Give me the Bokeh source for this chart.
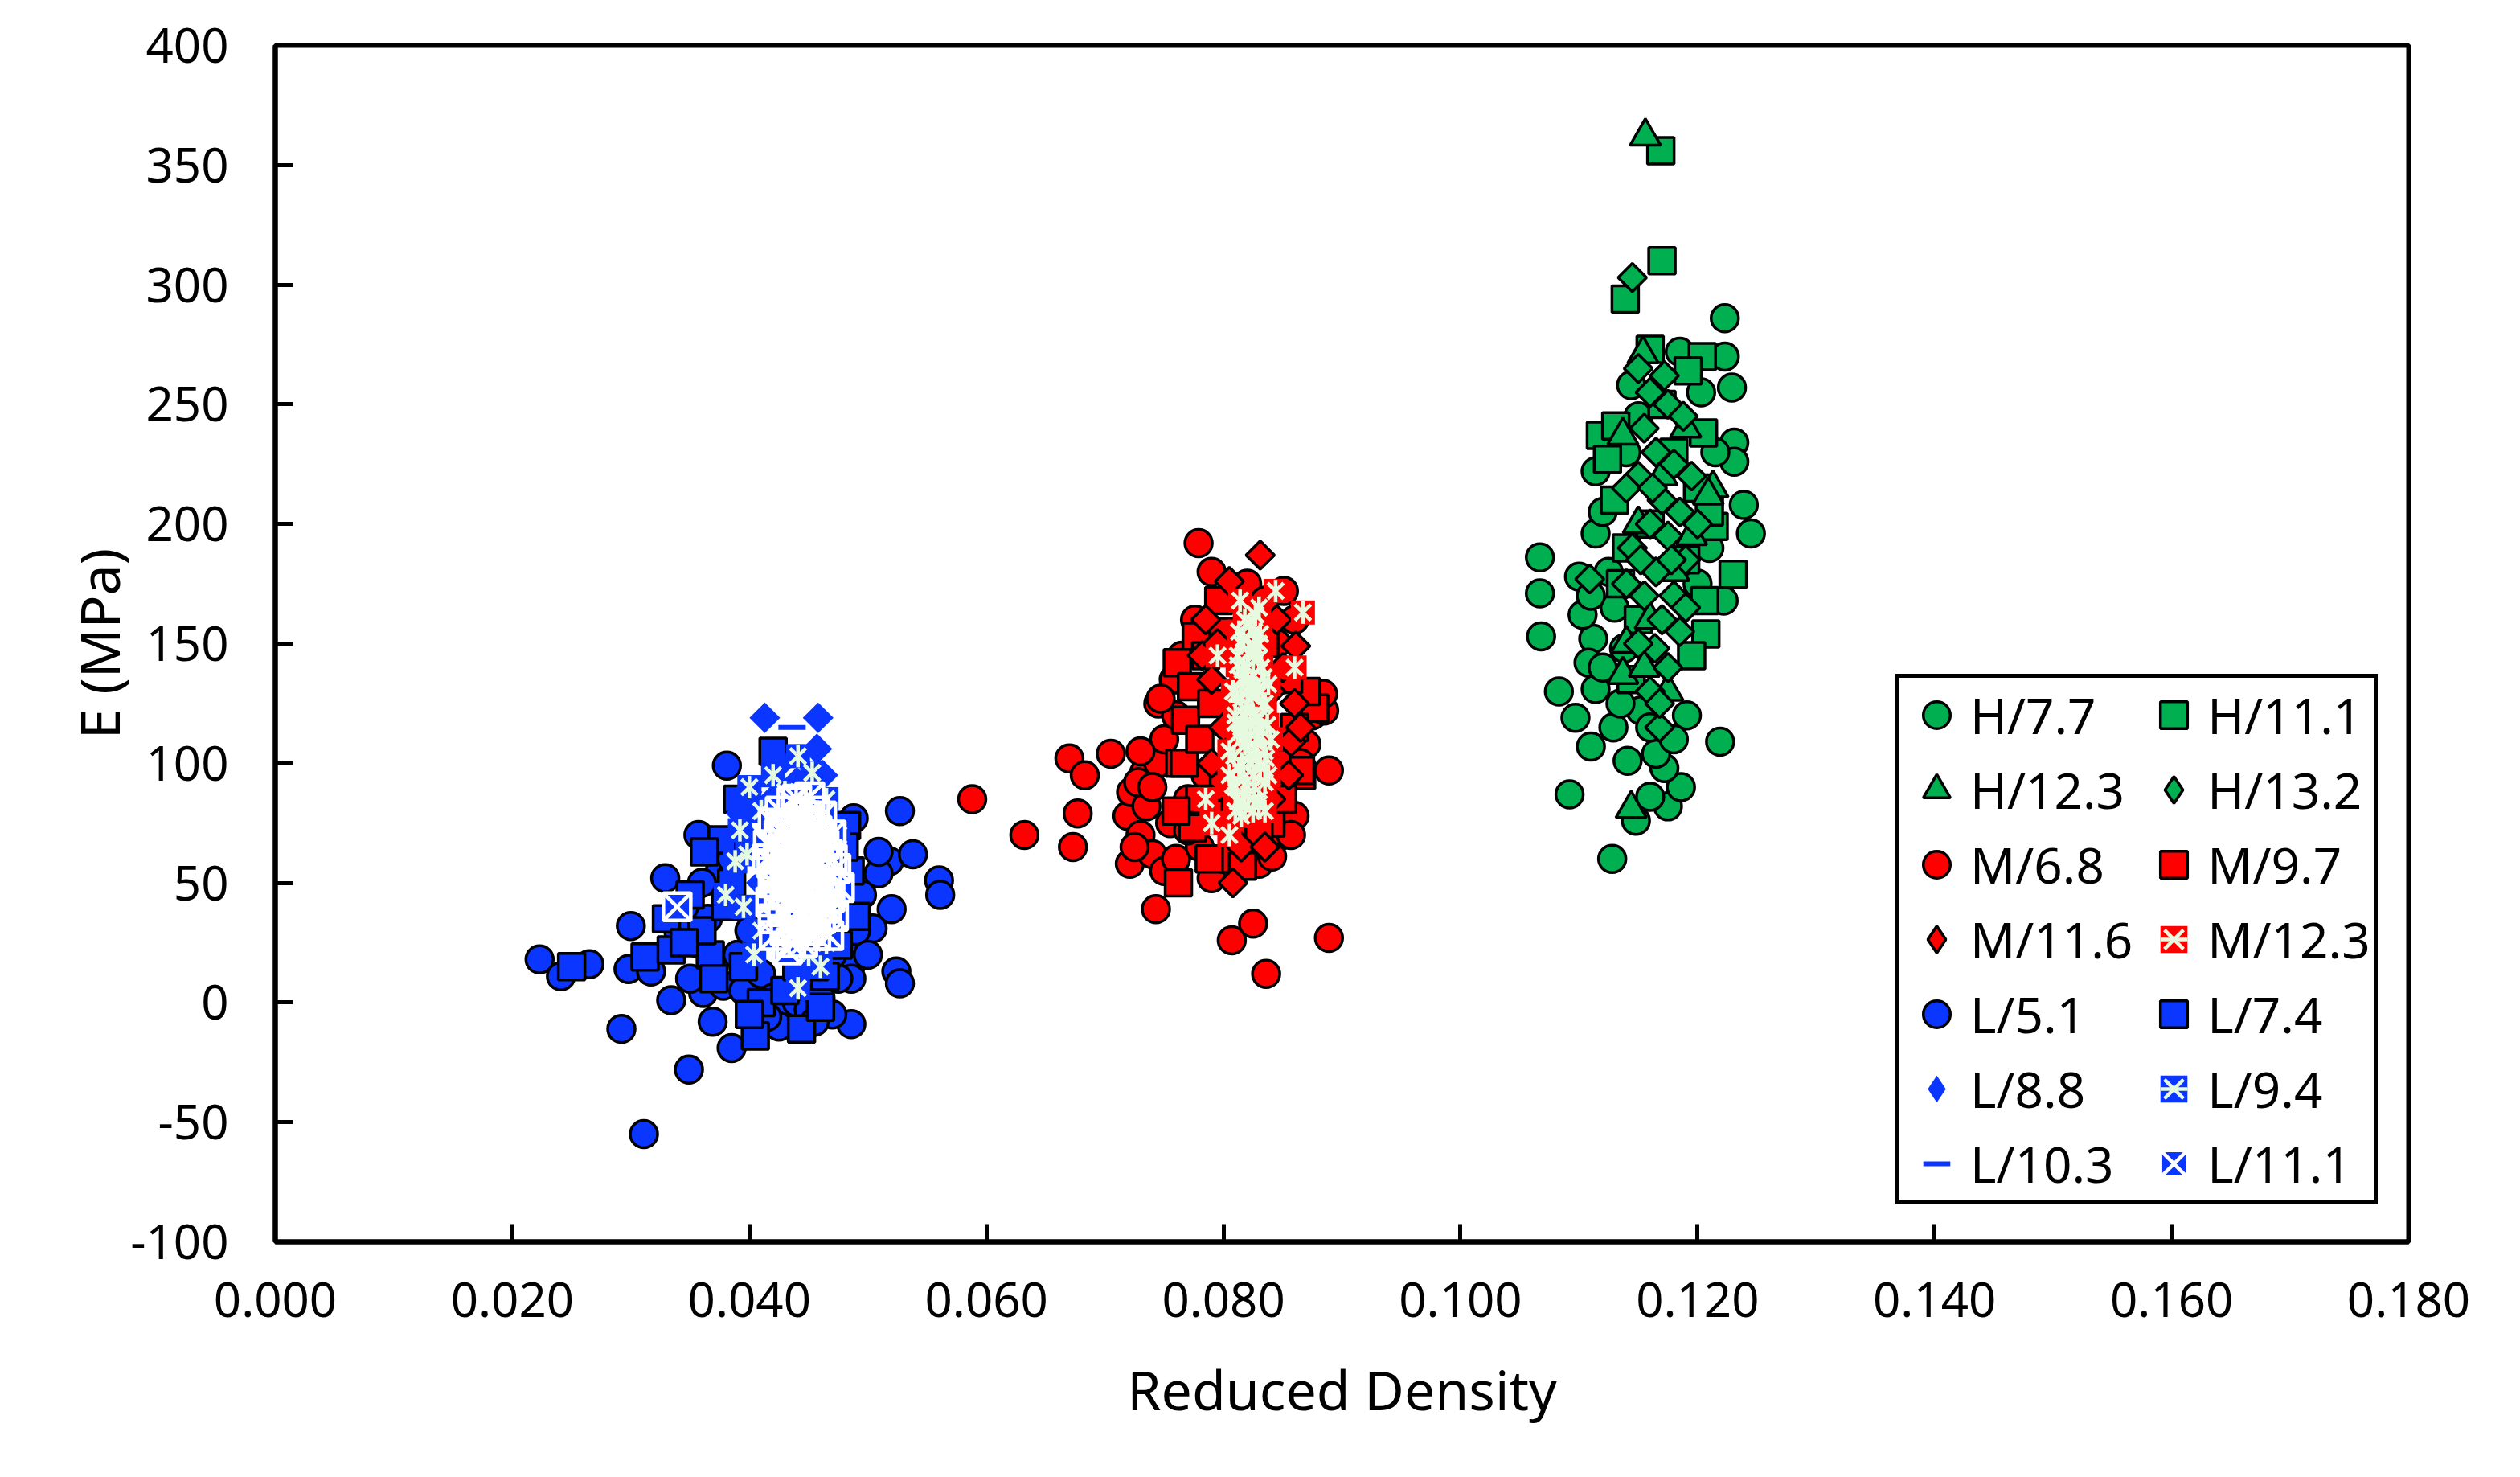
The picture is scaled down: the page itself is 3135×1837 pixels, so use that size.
import numpy as np
from bokeh.plotting import figure
from bokeh.models import Range1d, FixedTicker, PrintfTickFormatter, Legend, LegendItem
from bokeh.embed import file_html
from bokeh.resources import INLINE

# ---------------- data ----------------
h77_x = [0.1223, 0.1223, 0.1229, 0.1231, 0.1231, 0.1239, 0.1245, 0.1203, 0.1185, 0.1144, 0.1114,
         0.1067, 0.1067, 0.1068, 0.1083, 0.1097, 0.1110, 0.1129, 0.1092, 0.1128, 0.1148, 0.1175,
         0.1186, 0.1219, 0.1191, 0.1141, 0.1172, 0.1160, 0.1165, 0.1114, 0.1100, 0.1112, 0.1108,
         0.1114, 0.1103, 0.1152, 0.1138, 0.1222, 0.1130, 0.1125, 0.1120, 0.1140, 0.1150, 0.1210,
         0.1215, 0.1200, 0.1120, 0.1135, 0.1180, 0.1160, 0.1110]
h77_y = [286, 270, 257, 234, 226, 208, 196, 255, 272, 258, 222,
         186, 171, 153, 130, 119, 107, 115, 87, 60, 76, 82,
         90, 109, 120, 101, 98, 86, 104, 196, 178, 152, 142,
         131, 162, 122, 148, 168, 165, 180, 205, 230, 245, 190,
         230, 175, 140, 125, 110, 115, 170]

h111_x = [0.1169, 0.1170, 0.1139, 0.1160, 0.1204, 0.1192, 0.1205, 0.1118, 0.1131, 0.1124, 0.1230,
          0.1207, 0.1214, 0.1144, 0.1206, 0.1130, 0.1140, 0.1200, 0.1190, 0.1150, 0.1180, 0.1135,
          0.1210, 0.1160, 0.1195, 0.1170]
h111_y = [356, 310, 294, 273, 270, 264, 238, 237, 241, 227, 179,
          154, 199, 135, 168, 210, 190, 215, 185, 160, 230, 175,
          205, 200, 145, 250]

h123_x = [0.1156, 0.1154, 0.1137, 0.1213, 0.1144, 0.1175, 0.1137, 0.1209, 0.1150, 0.1180, 0.1160,
          0.1190, 0.1140, 0.1170, 0.1195, 0.1155]
h123_y = [362, 271, 237, 215, 81, 130, 137, 212, 200, 180, 160,
          240, 150, 220, 195, 140]

h132_x = [0.1145, 0.1109, 0.1168, 0.1164, 0.1160, 0.1175, 0.1155, 0.1165, 0.1180, 0.1150, 0.1170,
          0.1185, 0.1160, 0.1175, 0.1145, 0.1190, 0.1165, 0.1155, 0.1180, 0.1170, 0.1185, 0.1150,
          0.1175, 0.1160, 0.1195, 0.1140, 0.1150, 0.1172, 0.1188, 0.1140, 0.1200, 0.1162, 0.1178,
          0.1152, 0.1168, 0.1190]
h132_y = [303, 177, 115, 148, 255, 250, 240, 230, 225, 220, 210,
          205, 200, 195, 190, 185, 180, 170, 170, 160, 155, 150,
          140, 130, 220, 215, 265, 262, 245, 175, 200, 215, 185,
          185, 125, 165]

m68_x = [0.0779, 0.0705, 0.0889, 0.0743, 0.0807, 0.0825, 0.0889, 0.0836, 0.0588, 0.0632, 0.0670,
         0.0683, 0.0673, 0.0677, 0.0733, 0.0719, 0.0721, 0.0776, 0.0758, 0.0745, 0.0722, 0.0730,
         0.0740, 0.0750, 0.0760, 0.0735, 0.0728, 0.0745, 0.0750, 0.0760, 0.0770, 0.0780, 0.0790,
         0.0800, 0.0810, 0.0820, 0.0830, 0.0840, 0.0850, 0.0860, 0.0870, 0.0875, 0.0885, 0.0880,
         0.0860, 0.0851, 0.0845, 0.0765, 0.0790, 0.0820, 0.0835, 0.0740, 0.0725, 0.0785, 0.0795,
         0.0850, 0.0865, 0.0755, 0.0770, 0.0730, 0.0884, 0.0747, 0.0857, 0.0841]
m68_y = [192, 104, 97, 39, 26, 33, 27, 12, 85, 70, 102,
         95, 65, 79, 96, 78, 58, 160, 135, 125, 88, 70,
         62, 55, 60, 82, 92, 100, 110, 120, 85, 65, 52,
         60, 70, 62, 58, 66, 70, 78, 108, 120, 122, 128,
         160, 172, 150, 145, 180, 175, 168, 90, 65, 95, 80,
         90, 100, 75, 72, 105, 129, 127, 70, 61]

m97_x = [0.0796, 0.0777, 0.0761, 0.0773, 0.0768, 0.0763, 0.0774, 0.0788, 0.0762, 0.0816, 0.0877,
         0.0866, 0.0865, 0.0767, 0.0780, 0.0790, 0.0785, 0.0800, 0.0810, 0.0840, 0.0850, 0.0860,
         0.0870, 0.0855, 0.0780, 0.0760, 0.0830, 0.0845, 0.0800, 0.0835]
m97_y = [168, 153, 142, 132, 118, 100, 73, 60, 50, 57, 123,
         95, 97, 100, 110, 125, 145, 90, 80, 75, 85, 115,
         130, 135, 85, 80, 70, 100, 155, 150]

m116_x = [0.0831, 0.0805, 0.0782, 0.0808, 0.0861, 0.0857, 0.0785, 0.0790, 0.0845, 0.0860, 0.0865,
          0.0855, 0.0840, 0.0790, 0.0800, 0.0850, 0.0795, 0.0820, 0.0840, 0.0815, 0.0835]
m116_y = [187, 176, 145, 50, 149, 109, 160, 135, 160, 125, 115,
          95, 85, 100, 115, 140, 150, 155, 130, 65, 65]

m123_x = [0.0867, 0.0844, 0.0814, 0.0860, 0.0830, 0.0795, 0.0785, 0.0790, 0.0805, 0.0815,
          0.0810, 0.0815, 0.0820, 0.0825, 0.0830, 0.0820, 0.0815, 0.0810, 0.0805, 0.0825,
          0.0830, 0.0835, 0.0830, 0.0820, 0.0815, 0.0825, 0.0820, 0.0812, 0.0828, 0.0818,
          0.0822, 0.0808, 0.0835, 0.0832, 0.0818, 0.0826, 0.0812, 0.0838, 0.0805, 0.0822,
          0.0815, 0.0828, 0.0818, 0.0830, 0.0810, 0.0825, 0.0835, 0.0840,
          0.0812, 0.0821, 0.0830, 0.0808, 0.0817, 0.0826, 0.0835, 0.0813, 0.0822, 0.0831,
          0.0809, 0.0818, 0.0827, 0.0836, 0.0814, 0.0823, 0.0832, 0.0810, 0.0819, 0.0828,
          0.0837, 0.0815, 0.0824, 0.0833, 0.0811, 0.0820, 0.0829, 0.0838, 0.0816, 0.0825,
          0.0834, 0.0812, 0.0821, 0.0830, 0.0817, 0.0826, 0.0813, 0.0822, 0.0831, 0.0827]
m123_y = [163, 172, 168, 140, 165, 145, 85, 75, 70, 78,
          90, 100, 110, 120, 130, 140, 150, 120, 105, 95,
          85, 105, 115, 125, 135, 145, 90, 112, 102, 82,
          132, 130, 125, 140, 160, 155, 145, 95, 95, 100,
          115, 110, 120, 150, 80, 80, 80, 110,
          84, 87, 83, 91, 94, 90, 92, 98, 104, 99,
          103, 108, 106, 102, 113, 116, 111, 117, 122, 119,
          116, 127, 128, 124, 129, 134, 131, 133, 139, 137,
          136, 141, 146, 144, 152, 149, 155, 158, 154, 162]

l51_x = [0.0223, 0.0241, 0.0265, 0.0292, 0.0300, 0.0298, 0.0311, 0.0329, 0.0317, 0.0334, 0.0349,
         0.0369, 0.0385, 0.0361, 0.0378, 0.0357, 0.0381, 0.0486, 0.0486, 0.0486, 0.0520, 0.0524,
         0.0527, 0.0518, 0.0504, 0.0509, 0.0527, 0.0538, 0.0560, 0.0561, 0.0509, 0.0488,
         0.0355, 0.0365, 0.0370, 0.0380, 0.0390, 0.0395, 0.0400, 0.0405, 0.0410, 0.0420, 0.0430,
         0.0440, 0.0450, 0.0460, 0.0470, 0.0475, 0.0480, 0.0485, 0.0480, 0.0490, 0.0470, 0.0375,
         0.0385, 0.0360, 0.0345, 0.0340, 0.0350, 0.0455, 0.0445, 0.0465, 0.0495, 0.0500, 0.0425,
         0.0415]
l51_y = [18, 11, 16, -11, 32, 14, -55, 52, 13, 1, -28,
         -8, -19, 4, 7, 70, 99, -9, 16, 10, 39, 13,
         8, 59, 31, 54, 80, 62, 51, 45, 63, 77,
         25, 35, 15, 45, 20, 5, 30, -5, 12, 2, -2,
         0, -3, 2, -5, 10, 25, 40, 55, 30, 20, 55,
         60, 50, 40, 30, 10, -8, 12, 30, 45, 20, -10,
         -6]

l74_x = [0.0250, 0.0312, 0.0334, 0.0367, 0.0420, 0.0405, 0.0444, 0.0464, 0.0482, 0.0490, 0.0475,
         0.0377, 0.0362, 0.0330, 0.0350, 0.0360, 0.0380, 0.0395, 0.0410, 0.0430, 0.0455, 0.0470,
         0.0485, 0.0480, 0.0390, 0.0385, 0.0400, 0.0460, 0.0370, 0.0345, 0.0440]
l74_y = [15, 19, 22, 20, 105, -14, -11, 11, 74, 36, 24,
         68, 63, 35, 45, 30, 40, 15, 0, 5, 15, 45,
         55, 65, 85, 50, -5, -2, 10, 25, 15]

l88_x = [0.0413, 0.0458, 0.0457, 0.0393, 0.0400, 0.0440, 0.0462, 0.0420, 0.0450, 0.0470, 0.0435,
         0.0410, 0.0460, 0.0398, 0.0426]
l88_y = [119, 119, 106, 79, 68, 92, 95, 85, 75, 60, 40,
         50, 30, 88, 100]

l94_x = [0.0441, 0.0453, 0.0388, 0.0404, 0.0441, 0.0410, 0.0392, 0.0400, 0.0465, 0.0470, 0.0465,
         0.0420, 0.0380, 0.0395, 0.0450, 0.0475, 0.0430, 0.0410, 0.0460, 0.0398]
l94_y = [103, 96, 59, 20, 6, 30, 72, 90, 85, 45, 25,
         95, 45, 40, 20, 70, 88, 80, 15, 62]

l103_x = [0.0436, 0.0430, 0.0445, 0.0440, 0.0450, 0.0425]
l103_y = [115, 80, 60, 40, 30, 55]

l111_x = [0.0339, 0.0420, 0.0425, 0.0430, 0.0435, 0.0440, 0.0445, 0.0450, 0.0455, 0.0460, 0.0465,
          0.0425, 0.0430, 0.0440, 0.0450, 0.0460, 0.0420, 0.0435, 0.0445, 0.0455, 0.0440, 0.0430,
          0.0450, 0.0460, 0.0435, 0.0445, 0.0425, 0.0440, 0.0450, 0.0430, 0.0455, 0.0415, 0.0470,
          0.0440, 0.0445, 0.0435, 0.0465, 0.0420, 0.0455, 0.0440, 0.0450,
          0.0418, 0.0423, 0.0428, 0.0433, 0.0438, 0.0443, 0.0448, 0.0453, 0.0458, 0.0463,
          0.0468, 0.0473, 0.0416, 0.0421, 0.0426, 0.0431, 0.0436, 0.0441, 0.0446, 0.0451,
          0.0456, 0.0461, 0.0466, 0.0471, 0.0476, 0.0427, 0.0437, 0.0447, 0.0457, 0.0467,
          0.0432, 0.0442, 0.0452, 0.0462, 0.0419, 0.0439, 0.0449, 0.0459, 0.0469, 0.0429]
l111_y = [40, 35, 45, 55, 65, 75, 50, 40, 60, 70, 50,
          60, 30, 30, 30, 35, 50, 40, 65, 45, 55, 70,
          75, 55, 50, 35, 70, 45, 55, 45, 65, 60, 60,
          85, 25, 25, 40, 75, 80, 65, 48,
          42, 52, 38, 62, 48, 72, 58, 34, 50, 66,
          44, 56, 66, 28, 80, 50, 84, 38, 44, 86,
          28, 78, 62, 36, 48, 64, 58, 78, 72, 28,
          22, 62, 66, 46, 58, 30, 68, 40, 70, 74]

x_ticks = [0.0, 0.02, 0.04, 0.06, 0.08, 0.10, 0.12, 0.14, 0.16, 0.18]
y_ticks = [-100, -50, 0, 50, 100, 150, 200, 250, 300, 350, 400]

# ---------------- styling ----------------
GREEN = "#00b050"
RED = "#ff0000"
BLUE = "#0a36ff"
MINT = "#e6fae0"
FONT = "Noto Sans"
DIAM = np.pi / 4

p = figure(width=3118, height=1820, output_backend="svg", toolbar_location=None,
           x_range=Range1d(0, 0.18), y_range=Range1d(-100, 400),
           min_border_left=342, min_border_right=122, min_border_top=56, min_border_bottom=276,
           background_fill_color="white", border_fill_color="white")
p.grid.visible = False
p.outline_line_color = "black"
p.outline_line_width = 6

for ax in (p.xaxis[0], p.yaxis[0]):
    ax.axis_line_width = 6
    ax.axis_line_color = "black"
    ax.major_tick_in = 22
    ax.major_tick_out = 0
    ax.major_tick_line_width = 5
    ax.minor_tick_line_color = None
    ax.major_label_text_font = FONT
    ax.major_label_text_font_size = "60px"
    ax.major_label_text_color = "black"
    ax.axis_label_text_font = FONT
    ax.axis_label_text_font_size = "68px"
    ax.axis_label_text_font_style = "normal"
    ax.axis_label_text_color = "black"

p.xaxis.ticker = FixedTicker(ticks=x_ticks)
p.yaxis.ticker = FixedTicker(ticks=y_ticks)
p.xaxis.formatter = PrintfTickFormatter(format="%.3f")
p.yaxis.formatter = PrintfTickFormatter(format="%d")
p.xaxis.major_label_standoff = 50
p.yaxis.major_label_standoff = 58
p.xaxis.axis_label = "Reduced Density"
p.yaxis.axis_label = "E (MPa)"
p.xaxis.axis_label_standoff = 40
p.yaxis.axis_label_standoff = -10

LW = 3.5


def sc(xs, ys, marker, size, fill, line, lw=LW, angle=0.0):
    return p.scatter(x=xs, y=ys, marker=marker, size=size, fill_color=fill,
                     line_color=line, line_width=lw, angle=angle)


def star(xs, ys, fill):
    r1 = sc(xs, ys, "square", 30, fill, None, 0)
    r2 = sc(xs, ys, "x", 28, None, MINT, 4.5)
    r3 = sc(xs, ys, "dash", 28, None, MINT, 4.5, angle=np.pi / 2)
    return [r1, r2, r3]


def diamonds(xs, ys, size, fill, line, lw):
    # a plain diamond underneath (it is the legend key, hidden in the plot)
    # and a square turned 45 degrees on top (the marker that shows in the plot)
    key = sc(xs, ys, "diamond", size + 8, fill, line, lw)
    sc(xs, ys, "square", size, fill, line, lw, angle=DIAM)
    return [key]


r_h77 = [sc(h77_x, h77_y, "circle", 34, GREEN, "black")]
r_h111 = [sc(h111_x, h111_y, "square", 33, GREEN, "black")]
r_h123 = [sc(h123_x, h123_y, "triangle", 38, GREEN, "black")]
r_h132 = diamonds(h132_x, h132_y, 25, GREEN, "black", LW)
r_m68 = [sc(m68_x, m68_y, "circle", 34, RED, "black")]
r_m97 = [sc(m97_x, m97_y, "square", 33, RED, "black")]
r_m116 = diamonds(m116_x, m116_y, 25, RED, "black", LW)
r_m123 = star(m123_x, m123_y, RED)
r_l51 = [sc(l51_x, l51_y, "circle", 34, BLUE, "black")]
r_l74 = [sc(l74_x, l74_y, "square", 33, BLUE, "black")]
r_l88 = diamonds(l88_x, l88_y, 27, BLUE, None, 0)
r_l94 = star(l94_x, l94_y, BLUE)
r_l103 = [sc(l103_x, l103_y, "dash", 34, None, BLUE, 6)]
r_l111 = [sc(l111_x, l111_y, "square", 34, BLUE, None, 0),
          sc(l111_x, l111_y, "square_x", 34, None, "white", 4.5)]

items = [
    LegendItem(label="H/7.7", renderers=r_h77),
    LegendItem(label="H/11.1", renderers=r_h111),
    LegendItem(label="H/12.3", renderers=r_h123),
    LegendItem(label="H/13.2", renderers=r_h132),
    LegendItem(label="M/6.8", renderers=r_m68),
    LegendItem(label="M/9.7", renderers=r_m97),
    LegendItem(label="M/11.6", renderers=r_m116),
    LegendItem(label="M/12.3", renderers=r_m123),
    LegendItem(label="L/5.1", renderers=r_l51),
    LegendItem(label="L/7.4", renderers=r_l74),
    LegendItem(label="L/8.8", renderers=r_l88),
    LegendItem(label="L/9.4", renderers=r_l94),
    LegendItem(label="L/10.3", renderers=r_l103),
    LegendItem(label="L/11.1", renderers=r_l111),
]

legend = Legend(items=items, location=(2016, 46), orientation="horizontal", ncols=2,
                glyph_width=84, glyph_height=84, spacing=9, padding=4, margin=0,
                label_standoff=0, label_width=199,
                label_text_font=FONT, label_text_font_size="62px", label_text_color="black",
                border_line_color="black", border_line_width=5, border_line_alpha=1.0,
                background_fill_color="white", background_fill_alpha=1.0)
p.add_layout(legend, "center")

open("out.html", "w").write(file_html(p, INLINE))
